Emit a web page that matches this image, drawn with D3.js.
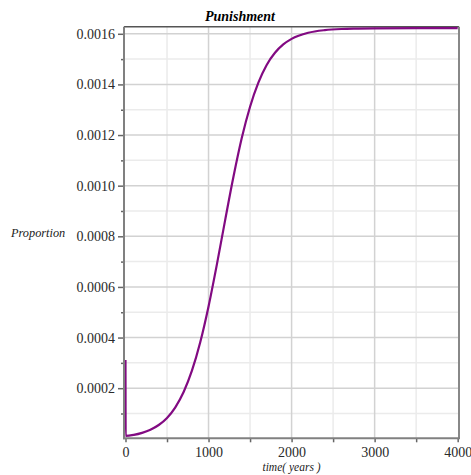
<!DOCTYPE html>
<html>
<head>
<meta charset="utf-8">
<script src="https://cdn.jsdelivr.net/npm/d3@7"></script>
<style>
  html, body { margin: 0; padding: 0; background: #fff; }
  svg { display: block; }
  text { font-family: "Liberation Serif", "Times New Roman", serif; }
</style>
</head>
<body>
<svg id="chart" width="471" height="475"></svg>
<script>
// Simulated proportion of the population practising punishment over time
const times = [0, 2, 100, 200, 300, 400, 500, 600, 700, 800, 900, 1000, 1100, 1200,
  1300, 1400, 1500, 1600, 1700, 1800, 1900, 2000, 2200, 2400, 2600, 2800, 3000, 3500, 4000];
const proportion = [0.000311, 0.0000115, 0.0000155, 0.0000235, 0.0000358, 0.0000545,
  0.0000825, 0.0001245, 0.000185, 0.000269, 0.0003815, 0.000523, 0.000688, 0.000864,
  0.001035, 0.001188, 0.001312, 0.001407, 0.001477, 0.001525, 0.001558, 0.00158,
  0.001604, 0.0016145, 0.001619, 0.0016205, 0.0016215, 0.001622, 0.001622];

const xMajorTicks = [0, 1000, 2000, 3000, 4000];
const xMinorTicks = [500, 1500, 2500, 3500];
const yMajorTicks = [0.0002, 0.0004, 0.0006, 0.0008, 0.001, 0.0012, 0.0014, 0.0016];
const yMinorTicks = [0.0001, 0.0003, 0.0005, 0.0007, 0.0009, 0.0011, 0.0013, 0.0015];
const yTickLabels = ["0.0002", "0.0004", "0.0006", "0.0008", "0.0010", "0.0012", "0.0014", "0.0016"];

const svg = d3.select("#chart");
const plot = { left: 124, right: 459, top: 26.7, bottom: 438.3 };

const x = d3.scaleLinear().domain([-18, 4016]).range([plot.left, plot.right]);
const y = d3.scaleLinear().domain([0.000002, 0.001628]).range([plot.bottom, plot.top]);

// grid: light minor lines, then darker major lines
const grid = svg.append("g");
grid.selectAll(".vmin").data(xMinorTicks).join("line")
  .attr("x1", d => x(d)).attr("x2", d => x(d))
  .attr("y1", plot.top).attr("y2", plot.bottom)
  .attr("stroke", "#ebebeb").attr("stroke-width", 1.5);
grid.selectAll(".hmin").data(yMinorTicks).join("line")
  .attr("y1", d => y(d)).attr("y2", d => y(d))
  .attr("x1", plot.left).attr("x2", plot.right)
  .attr("stroke", "#ebebeb").attr("stroke-width", 1.5);
grid.selectAll(".vmaj").data(xMajorTicks.slice(1, -1)).join("line")
  .attr("x1", d => x(d)).attr("x2", d => x(d))
  .attr("y1", plot.top).attr("y2", plot.bottom)
  .attr("stroke", "#d2d2d2").attr("stroke-width", 1.5);
grid.selectAll(".hmaj").data(yMajorTicks).join("line")
  .attr("y1", d => y(d)).attr("y2", d => y(d))
  .attr("x1", plot.left).attr("x2", plot.right)
  .attr("stroke", "#d2d2d2").attr("stroke-width", 1.5);

// frame
svg.append("line").attr("x1", plot.left).attr("x2", plot.right)
  .attr("y1", plot.top).attr("y2", plot.top)
  .attr("stroke", "#555").attr("stroke-width", 1.5);
svg.append("line").attr("x1", plot.right).attr("x2", plot.right)
  .attr("y1", plot.top).attr("y2", plot.bottom)
  .attr("stroke", "#888").attr("stroke-width", 2);

// curve
const line = d3.line()
  .x((d, i) => x(times[i]))
  .y(d => y(d))
  .curve(d3.curveMonotoneX);
svg.append("path")
  .attr("d", line(proportion))
  .attr("fill", "none")
  .attr("stroke", "#820a82")
  .attr("stroke-width", 2.2);

// axes
const yAxis = d3.axisLeft(y).tickValues(yMajorTicks).tickSize(6).tickPadding(3)
  .tickFormat((d, i) => yTickLabels[i]);
const gy = svg.append("g").attr("transform", `translate(${plot.left},0)`).call(yAxis);
gy.select(".domain").remove();
gy.selectAll(".tick line").attr("stroke", "#666").attr("stroke-width", 1.5);
gy.selectAll(".tick text").attr("fill", "#2a2a2a").style("font-size", "14px")
  .style("font-family", "'Liberation Serif', serif");
const yMinorAxis = d3.axisLeft(y).tickValues(yMinorTicks).tickSize(3).tickFormat("");
const gym = svg.append("g").attr("transform", `translate(${plot.left},0)`).call(yMinorAxis);
gym.select(".domain").remove();
gym.selectAll(".tick line").attr("stroke", "#666").attr("stroke-width", 1.5);

const xAxis = d3.axisBottom(x).tickValues(xMajorTicks).tickSize(4).tickPadding(5)
  .tickFormat(d3.format("d"));
const gx = svg.append("g").attr("transform", `translate(0,${plot.bottom})`).call(xAxis);
gx.select(".domain").remove();
gx.selectAll(".tick line").attr("stroke", "#666").attr("stroke-width", 1.5);
gx.selectAll(".tick text").attr("fill", "#2a2a2a").style("font-size", "14px")
  .style("font-family", "'Liberation Serif', serif");
const xMinorAxis = d3.axisBottom(x).tickValues(xMinorTicks).tickSize(4).tickFormat("");
const gxm = svg.append("g").attr("transform", `translate(0,${plot.bottom})`).call(xMinorAxis);
gxm.select(".domain").remove();
gxm.selectAll(".tick line").attr("stroke", "#666").attr("stroke-width", 1.5);

svg.append("line").attr("x1", plot.left).attr("x2", plot.left)
  .attr("y1", plot.top).attr("y2", plot.bottom + 1)
  .attr("stroke", "#808080").attr("stroke-width", 2);
svg.append("line").attr("x1", plot.left - 1).attr("x2", plot.right + 1)
  .attr("y1", plot.bottom).attr("y2", plot.bottom)
  .attr("stroke", "#808080").attr("stroke-width", 2);

// titles
svg.append("text").attr("x", 240).attr("y", 21)
  .attr("text-anchor", "middle")
  .style("font-size", "14px").style("font-weight", "bold").style("font-style", "italic")
  .attr("fill", "#000").text("Punishment");
svg.append("text").attr("x", 11).attr("y", 237)
  .style("font-size", "12.3px").style("font-style", "italic")
  .attr("fill", "#222").text("Proportion");
svg.append("text").attr("x", 291.5).attr("y", 471)
  .attr("text-anchor", "middle")
  .style("font-size", "11.5px").style("font-style", "italic")
  .attr("fill", "#222").text("time( years )");
</script>
</body>
</html>
